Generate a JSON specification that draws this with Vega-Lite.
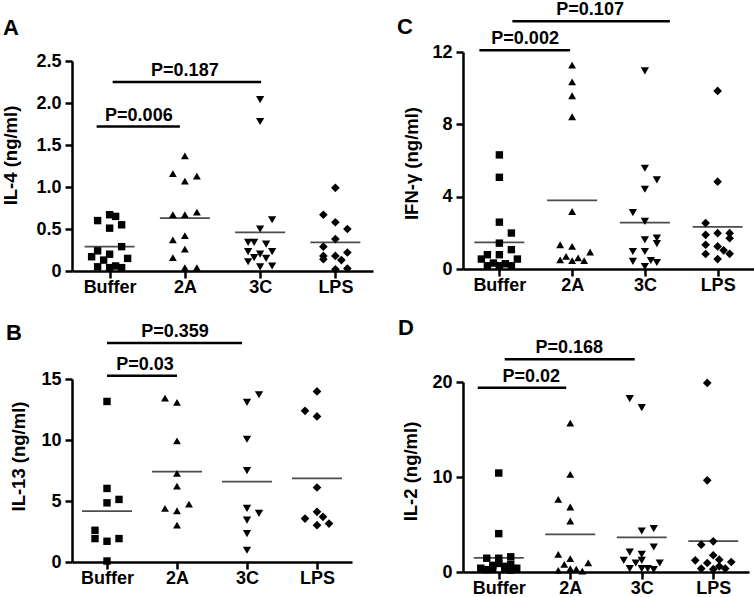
{
  "$schema": "https://vega.github.io/schema/vega-lite/v6.json",
  "background": "white",
  "padding": {"left": 1, "top": 1, "right": 0, "bottom": 0},
  "datasets": {
    "pts": [
      {"panel":"A","group":"Buffer","slot":0,"value":0.67},{"panel":"A","group":"Buffer","slot":1,"value":0.65},{"panel":"A","group":"Buffer","slot":-2,"value":0.60},{"panel":"A","group":"Buffer","slot":2,"value":0.55},{"panel":"A","group":"Buffer","slot":0,"value":0.51},{"panel":"A","group":"Buffer","slot":2,"value":0.29},{"panel":"A","group":"Buffer","slot":-2,"value":0.24},{"panel":"A","group":"Buffer","slot":0,"value":0.20},{"panel":"A","group":"Buffer","slot":-3,"value":0.17},{"panel":"A","group":"Buffer","slot":3,"value":0.15},{"panel":"A","group":"Buffer","slot":-1,"value":0.13},{"panel":"A","group":"Buffer","slot":-2,"value":0.05},{"panel":"A","group":"Buffer","slot":0,"value":0.04},{"panel":"A","group":"Buffer","slot":1,"value":0.06},{"panel":"A","group":"Buffer","slot":2,"value":0.04},
      {"panel":"A","group":"2A","slot":0,"value":1.37},{"panel":"A","group":"2A","slot":-2,"value":1.16},{"panel":"A","group":"2A","slot":0,"value":1.07},{"panel":"A","group":"2A","slot":2,"value":1.13},{"panel":"A","group":"2A","slot":-2,"value":0.67},{"panel":"A","group":"2A","slot":0,"value":0.67},{"panel":"A","group":"2A","slot":2,"value":0.70},{"panel":"A","group":"2A","slot":-2,"value":0.37},{"panel":"A","group":"2A","slot":0,"value":0.42},{"panel":"A","group":"2A","slot":0,"value":0.26},{"panel":"A","group":"2A","slot":-2,"value":0.16},{"panel":"A","group":"2A","slot":0,"value":0.04},{"panel":"A","group":"2A","slot":2,"value":0.04},
      {"panel":"A","group":"3C","slot":0,"value":2.04},{"panel":"A","group":"3C","slot":0,"value":1.78},{"panel":"A","group":"3C","slot":2,"value":0.61},{"panel":"A","group":"3C","slot":0,"value":0.50},{"panel":"A","group":"3C","slot":-2,"value":0.34},{"panel":"A","group":"3C","slot":-1,"value":0.34},{"panel":"A","group":"3C","slot":1,"value":0.32},{"panel":"A","group":"3C","slot":-2,"value":0.23},{"panel":"A","group":"3C","slot":0,"value":0.20},{"panel":"A","group":"3C","slot":2,"value":0.23},{"panel":"A","group":"3C","slot":-1,"value":0.16},{"panel":"A","group":"3C","slot":1,"value":0.15},{"panel":"A","group":"3C","slot":-2,"value":0.11},{"panel":"A","group":"3C","slot":0,"value":0.05},{"panel":"A","group":"3C","slot":2,"value":0.06},
      {"panel":"A","group":"LPS","slot":0,"value":0.99},{"panel":"A","group":"LPS","slot":-2,"value":0.67},{"panel":"A","group":"LPS","slot":0,"value":0.58},{"panel":"A","group":"LPS","slot":2,"value":0.50},{"panel":"A","group":"LPS","slot":0,"value":0.38},{"panel":"A","group":"LPS","slot":-2,"value":0.29},{"panel":"A","group":"LPS","slot":2,"value":0.22},{"panel":"A","group":"LPS","slot":-2,"value":0.18},{"panel":"A","group":"LPS","slot":-2,"value":0.14},{"panel":"A","group":"LPS","slot":0,"value":0.18},{"panel":"A","group":"LPS","slot":1,"value":0.13},{"panel":"A","group":"LPS","slot":0,"value":0.02},{"panel":"A","group":"LPS","slot":2,"value":0.03},

      {"panel":"B","group":"Buffer","slot":0,"value":13.16},{"panel":"B","group":"Buffer","slot":0,"value":6.03},{"panel":"B","group":"Buffer","slot":0,"value":4.85},{"panel":"B","group":"Buffer","slot":2,"value":5.13},{"panel":"B","group":"Buffer","slot":-2,"value":2.60},{"panel":"B","group":"Buffer","slot":-2,"value":1.92},{"panel":"B","group":"Buffer","slot":0,"value":1.70},{"panel":"B","group":"Buffer","slot":2,"value":1.92},{"panel":"B","group":"Buffer","slot":0,"value":0.08},
      {"panel":"B","group":"2A","slot":-2,"value":13.44},{"panel":"B","group":"2A","slot":0,"value":13.08},{"panel":"B","group":"2A","slot":0,"value":9.93},{"panel":"B","group":"2A","slot":0,"value":7.27},{"panel":"B","group":"2A","slot":0,"value":6.22},{"panel":"B","group":"2A","slot":-2,"value":4.39},{"panel":"B","group":"2A","slot":0,"value":4.20},{"panel":"B","group":"2A","slot":2,"value":4.74},{"panel":"B","group":"2A","slot":0,"value":3.02},
      {"panel":"B","group":"3C","slot":0,"value":13.08},{"panel":"B","group":"3C","slot":2,"value":13.71},{"panel":"B","group":"3C","slot":0,"value":10.06},{"panel":"B","group":"3C","slot":0,"value":7.49},{"panel":"B","group":"3C","slot":0,"value":4.39},{"panel":"B","group":"3C","slot":2,"value":3.98},{"panel":"B","group":"3C","slot":0,"value":3.43},{"panel":"B","group":"3C","slot":0,"value":2.33},{"panel":"B","group":"3C","slot":0,"value":0.96},
      {"panel":"B","group":"LPS","slot":0,"value":13.98},{"panel":"B","group":"LPS","slot":-2,"value":12.39},{"panel":"B","group":"LPS","slot":0,"value":11.93},{"panel":"B","group":"LPS","slot":0,"value":6.11},{"panel":"B","group":"LPS","slot":0,"value":4.11},{"panel":"B","group":"LPS","slot":-2,"value":3.56},{"panel":"B","group":"LPS","slot":1,"value":3.70},{"panel":"B","group":"LPS","slot":0,"value":3.02},{"panel":"B","group":"LPS","slot":2,"value":3.15},

      {"panel":"C","group":"Buffer","slot":0,"value":6.31},{"panel":"C","group":"Buffer","slot":0,"value":5.07},{"panel":"C","group":"Buffer","slot":0,"value":2.59},{"panel":"C","group":"Buffer","slot":2,"value":1.99},{"panel":"C","group":"Buffer","slot":0,"value":1.43},{"panel":"C","group":"Buffer","slot":2,"value":1.07},{"panel":"C","group":"Buffer","slot":-2,"value":0.79},{"panel":"C","group":"Buffer","slot":0,"value":0.79},{"panel":"C","group":"Buffer","slot":-3,"value":0.55},{"panel":"C","group":"Buffer","slot":3,"value":0.55},{"panel":"C","group":"Buffer","slot":-1,"value":0.33},{"panel":"C","group":"Buffer","slot":1,"value":0.29},{"panel":"C","group":"Buffer","slot":-2,"value":0.18},{"panel":"C","group":"Buffer","slot":0,"value":0.18},{"panel":"C","group":"Buffer","slot":2,"value":0.18},
      {"panel":"C","group":"2A","slot":0,"value":11.27},{"panel":"C","group":"2A","slot":0,"value":10.35},{"panel":"C","group":"2A","slot":0,"value":9.58},{"panel":"C","group":"2A","slot":0,"value":8.42},{"panel":"C","group":"2A","slot":0,"value":3.18},{"panel":"C","group":"2A","slot":-2,"value":1.34},{"panel":"C","group":"2A","slot":0,"value":1.25},{"panel":"C","group":"2A","slot":3,"value":0.94},{"panel":"C","group":"2A","slot":-1,"value":0.70},{"panel":"C","group":"2A","slot":-2,"value":0.51},{"panel":"C","group":"2A","slot":0,"value":0.46},{"panel":"C","group":"2A","slot":1,"value":0.61},{"panel":"C","group":"2A","slot":2,"value":0.46},
      {"panel":"C","group":"3C","slot":0,"value":10.96},{"panel":"C","group":"3C","slot":0,"value":5.57},{"panel":"C","group":"3C","slot":2,"value":4.93},{"panel":"C","group":"3C","slot":0,"value":4.41},{"panel":"C","group":"3C","slot":-2,"value":3.12},{"panel":"C","group":"3C","slot":0,"value":2.63},{"panel":"C","group":"3C","slot":0,"value":1.62},{"panel":"C","group":"3C","slot":2,"value":1.71},{"panel":"C","group":"3C","slot":2,"value":1.40},{"panel":"C","group":"3C","slot":-2,"value":0.97},{"panel":"C","group":"3C","slot":0,"value":0.97},{"panel":"C","group":"3C","slot":-2,"value":0.42},{"panel":"C","group":"3C","slot":1,"value":0.47},{"panel":"C","group":"3C","slot":2,"value":0.36},{"panel":"C","group":"3C","slot":0,"value":0.14},
      {"panel":"C","group":"LPS","slot":0,"value":9.85},{"panel":"C","group":"LPS","slot":0,"value":4.83},{"panel":"C","group":"LPS","slot":-2,"value":2.54},{"panel":"C","group":"LPS","slot":-2,"value":1.89},{"panel":"C","group":"LPS","slot":0,"value":1.98},{"panel":"C","group":"LPS","slot":2,"value":1.98},{"panel":"C","group":"LPS","slot":2,"value":1.70},{"panel":"C","group":"LPS","slot":-2,"value":1.34},{"panel":"C","group":"LPS","slot":0,"value":1.25},{"panel":"C","group":"LPS","slot":1,"value":1.03},{"panel":"C","group":"LPS","slot":2,"value":0.84},{"panel":"C","group":"LPS","slot":-2,"value":0.83},{"panel":"C","group":"LPS","slot":0,"value":0.55},

      {"panel":"D","group":"Buffer","slot":0,"value":10.42},{"panel":"D","group":"Buffer","slot":0,"value":4.04},{"panel":"D","group":"Buffer","slot":-2,"value":1.45},{"panel":"D","group":"Buffer","slot":0,"value":1.45},{"panel":"D","group":"Buffer","slot":2,"value":1.6},{"panel":"D","group":"Buffer","slot":0,"value":0.9},{"panel":"D","group":"Buffer","slot":2,"value":0.8},{"panel":"D","group":"Buffer","slot":-1,"value":0.7},{"panel":"D","group":"Buffer","slot":1,"value":0.6},{"panel":"D","group":"Buffer","slot":-3,"value":0.4},{"panel":"D","group":"Buffer","slot":3,"value":0.4},{"panel":"D","group":"Buffer","slot":-1,"value":0.3},{"panel":"D","group":"Buffer","slot":1,"value":0.3},{"panel":"D","group":"Buffer","slot":-2,"value":0.25},{"panel":"D","group":"Buffer","slot":2,"value":0.2},
      {"panel":"D","group":"2A","slot":0,"value":15.68},{"panel":"D","group":"2A","slot":0,"value":10.28},{"panel":"D","group":"2A","slot":-2,"value":7.65},{"panel":"D","group":"2A","slot":0,"value":6.84},{"panel":"D","group":"2A","slot":0,"value":5.37},{"panel":"D","group":"2A","slot":-2,"value":1.86},{"panel":"D","group":"2A","slot":0,"value":1.40},{"panel":"D","group":"2A","slot":-1,"value":0.81},{"panel":"D","group":"2A","slot":3,"value":0.95},{"panel":"D","group":"2A","slot":-2,"value":0.18},{"panel":"D","group":"2A","slot":0,"value":0.35},{"panel":"D","group":"2A","slot":1,"value":0.30},{"panel":"D","group":"2A","slot":2,"value":0.10},
      {"panel":"D","group":"3C","slot":-2,"value":18.25},{"panel":"D","group":"3C","slot":0,"value":17.3},{"panel":"D","group":"3C","slot":0,"value":4.32},{"panel":"D","group":"3C","slot":2,"value":4.57},{"panel":"D","group":"3C","slot":2,"value":2.63},{"panel":"D","group":"3C","slot":-2,"value":2.1},{"panel":"D","group":"3C","slot":0,"value":1.86},{"panel":"D","group":"3C","slot":-3,"value":1.23},{"panel":"D","group":"3C","slot":0,"value":1.23},{"panel":"D","group":"3C","slot":-1,"value":0.95},{"panel":"D","group":"3C","slot":3,"value":0.95},{"panel":"D","group":"3C","slot":-2,"value":0.36},{"panel":"D","group":"3C","slot":0,"value":0.36},{"panel":"D","group":"3C","slot":1,"value":0.36},{"panel":"D","group":"3C","slot":2,"value":0.25},
      {"panel":"D","group":"LPS","slot":-1,"value":19.9},{"panel":"D","group":"LPS","slot":-1,"value":9.65},{"panel":"D","group":"LPS","slot":0,"value":3.23},{"panel":"D","group":"LPS","slot":-2,"value":2.88},{"panel":"D","group":"LPS","slot":0,"value":1.76},{"panel":"D","group":"LPS","slot":-3,"value":1.23},{"panel":"D","group":"LPS","slot":-1,"value":0.95},{"panel":"D","group":"LPS","slot":1,"value":1.3},{"panel":"D","group":"LPS","slot":3,"value":1.05},{"panel":"D","group":"LPS","slot":1,"value":0.6},{"panel":"D","group":"LPS","slot":-2,"value":0.36},{"panel":"D","group":"LPS","slot":2,"value":0.36},{"panel":"D","group":"LPS","slot":0,"value":0.3}
    ],
    "means": [
      {"panel":"A","group":"Buffer","mean":0.29},{"panel":"A","group":"2A","mean":0.63},{"panel":"A","group":"3C","mean":0.46},{"panel":"A","group":"LPS","mean":0.34},
      {"panel":"B","group":"Buffer","mean":4.17},{"panel":"B","group":"2A","mean":7.40},{"panel":"B","group":"3C","mean":6.58},{"panel":"B","group":"LPS","mean":6.86},
      {"panel":"C","group":"Buffer","mean":1.47},{"panel":"C","group":"2A","mean":3.79},{"panel":"C","group":"3C","mean":2.57},{"panel":"C","group":"LPS","mean":2.33},
      {"panel":"D","group":"Buffer","mean":1.49},{"panel":"D","group":"2A","mean":3.96},{"panel":"D","group":"3C","mean":3.65},{"panel":"D","group":"LPS","mean":3.26}
    ],
    "sig": [
      {"panel":"A","pair":"short","from":"Buffer","to":"2A","y":1.72,"label":"P=0.006"},
      {"panel":"A","pair":"long","from":"Buffer","to":"3C","y":2.25,"label":"P=0.187"},
      {"panel":"B","pair":"short","from":"Buffer","to":"2A","y":15.27,"label":"P=0.03"},
      {"panel":"B","pair":"long","from":"Buffer","to":"3C","y":17.96,"label":"P=0.359"},
      {"panel":"C","pair":"short","from":"Buffer","to":"2A","y":12.1,"label":"P=0.002"},
      {"panel":"C","pair":"long","from":"Buffer","to":"3C","y":13.7,"label":"P=0.107"},
      {"panel":"D","pair":"short","from":"Buffer","to":"2A","y":19.4,"label":"P=0.02"},
      {"panel":"D","pair":"long","from":"Buffer","to":"3C","y":22.4,"label":"P=0.168"}
    ]
  },
  "columns": 2,
  "bounds": "flush",
  "spacing": {"row": 108, "column": 90},
  "concat": [
    {
      "width": 301, "height": 219,
      "title": {"text": "A", "offset": 12, "dx": 1},
      "layer": [
        {"data": {"name": "pts"}, "transform": [{"filter": "datum.panel === 'A'"}],
         "mark": {"type": "point", "filled": true, "opacity": 1, "color": "black", "strokeWidth": 0},
         "encoding": {
           "x": {"field": "group", "type": "nominal", "scale": {"type": "point", "padding": 0.5, "domain": ["Buffer","2A","3C","LPS"]}, "axis": {"title": null}},
           "xOffset": {"field": "slot", "type": "quantitative", "scale": {"domain": [-3, 3], "range": [-18, 18]}},
           "y": {"field": "value", "type": "quantitative", "scale": {"domain": [0, 2.5], "range": [219, 9], "nice": false}, "axis": {"title": "IL-4 (ng/ml)", "values": [0, 0.5, 1, 1.5, 2, 2.5], "labelExpr": "datum.value === 0 ? '0' : format(datum.value, '.1f')", "titlePadding": 15, "titleY": 103}},
           "shape": {"field": "group", "type": "nominal", "scale": {"domain": ["Buffer","2A","3C","LPS"], "range": ["square","triangle-up","triangle-down","diamond"]}, "legend": null},
           "size": {"field": "group", "type": "nominal", "scale": {"domain": ["Buffer","2A","3C","LPS"], "range": [55, 75, 75, 60]}, "legend": null}
         }},
        {"data": {"name": "means"}, "transform": [{"filter": "datum.panel === 'A'"}],
         "mark": {"type": "tick", "color": "black", "size": 50, "thickness": 1.8},
         "encoding": {"x": {"field": "group", "type": "nominal"}, "y": {"field": "mean", "type": "quantitative"}}},
        {"data": {"name": "sig"}, "transform": [{"filter": "datum.panel === 'A' && datum.pair === 'short'"}],
         "mark": {"type": "rule", "color": "black", "strokeWidth": 2.5, "xOffset": -13, "x2Offset": -5},
         "encoding": {"x": {"field": "from", "type": "nominal"}, "x2": {"field": "to"}, "y": {"field": "y", "type": "quantitative"}}},
        {"data": {"name": "sig"}, "transform": [{"filter": "datum.panel === 'A' && datum.pair === 'long'"}],
         "mark": {"type": "rule", "color": "black", "strokeWidth": 2.5, "xOffset": 3, "x2Offset": 1},
         "encoding": {"x": {"field": "from", "type": "nominal"}, "x2": {"field": "to"}, "y": {"field": "y", "type": "quantitative"}}},
        {"data": {"name": "sig"}, "transform": [{"filter": "datum.panel === 'A' && datum.pair === 'short'"}],
         "mark": {"type": "text", "dx": -46, "dy": -6, "baseline": "alphabetic", "align": "center", "fontSize": 18, "fontWeight": "bold", "font": "Liberation Sans", "color": "black"},
         "encoding": {"x": {"datum": "2A", "type": "nominal"}, "y": {"field": "y", "type": "quantitative"}, "text": {"field": "label"}}},
        {"data": {"name": "sig"}, "transform": [{"filter": "datum.panel === 'A' && datum.pair === 'long'"}],
         "mark": {"type": "text", "dx": 0, "dy": -6, "baseline": "alphabetic", "align": "center", "fontSize": 18, "fontWeight": "bold", "font": "Liberation Sans", "color": "black"},
         "encoding": {"x": {"datum": "2A", "type": "nominal"}, "y": {"field": "y", "type": "quantitative"}, "text": {"field": "label"}}}
      ]
    },
    {
      "width": 291, "height": 217,
      "title": {"text": "C", "offset": -38, "dx": -6},
      "layer": [
        {"data": {"name": "pts"}, "transform": [{"filter": "datum.panel === 'C'"}],
         "mark": {"type": "point", "filled": true, "opacity": 1, "color": "black", "strokeWidth": 0},
         "encoding": {
           "x": {"field": "group", "type": "nominal", "scale": {"type": "point", "padding": 0.5, "domain": ["Buffer","2A","3C","LPS"]}, "axis": {"title": null}},
           "xOffset": {"field": "slot", "type": "quantitative", "scale": {"domain": [-3, 3], "range": [-18, 18]}},
           "y": {"field": "value", "type": "quantitative", "scale": {"domain": [0, 12], "nice": false}, "axis": {"title": "IFN-γ (ng/ml)", "values": [0, 4, 8, 12], "titlePadding": 10, "titleY": 111}},
           "shape": {"field": "group", "type": "nominal", "scale": {"domain": ["Buffer","2A","3C","LPS"], "range": ["square","triangle-up","triangle-down","diamond"]}, "legend": null},
           "size": {"field": "group", "type": "nominal", "scale": {"domain": ["Buffer","2A","3C","LPS"], "range": [55, 75, 75, 60]}, "legend": null}
         }},
        {"data": {"name": "means"}, "transform": [{"filter": "datum.panel === 'C'"}],
         "mark": {"type": "tick", "color": "black", "size": 50, "thickness": 1.8},
         "encoding": {"x": {"field": "group", "type": "nominal"}, "y": {"field": "mean", "type": "quantitative"}}},
        {"data": {"name": "sig"}, "transform": [{"filter": "datum.panel === 'C' && datum.pair === 'short'"}],
         "mark": {"type": "rule", "color": "black", "strokeWidth": 2.5, "xOffset": -20, "x2Offset": -2},
         "encoding": {"x": {"field": "from", "type": "nominal"}, "x2": {"field": "to"}, "y": {"field": "y", "type": "quantitative"}}},
        {"data": {"name": "sig"}, "transform": [{"filter": "datum.panel === 'C' && datum.pair === 'long'"}],
         "mark": {"type": "rule", "color": "black", "strokeWidth": 2.5, "xOffset": 13, "x2Offset": 25},
         "encoding": {"x": {"field": "from", "type": "nominal"}, "x2": {"field": "to"}, "y": {"field": "y", "type": "quantitative"}}},
        {"data": {"name": "sig"}, "transform": [{"filter": "datum.panel === 'C' && datum.pair === 'short'"}],
         "mark": {"type": "text", "dx": -47, "dy": -6, "baseline": "alphabetic", "align": "center", "fontSize": 18, "fontWeight": "bold", "font": "Liberation Sans", "color": "black"},
         "encoding": {"x": {"datum": "2A", "type": "nominal"}, "y": {"field": "y", "type": "quantitative"}, "text": {"field": "label"}}},
        {"data": {"name": "sig"}, "transform": [{"filter": "datum.panel === 'C' && datum.pair === 'long'"}],
         "mark": {"type": "text", "dx": 18, "dy": -6, "baseline": "alphabetic", "align": "center", "fontSize": 18, "fontWeight": "bold", "font": "Liberation Sans", "color": "black"},
         "encoding": {"x": {"datum": "2A", "type": "nominal"}, "y": {"field": "y", "type": "quantitative"}, "text": {"field": "label"}}}
      ]
    },
    {
      "width": 280, "height": 183,
      "title": {"text": "B", "offset": -22, "dx": -4},
      "layer": [
        {"data": {"name": "pts"}, "transform": [{"filter": "datum.panel === 'B'"}],
         "mark": {"type": "point", "filled": true, "opacity": 1, "color": "black", "strokeWidth": 0},
         "encoding": {
           "x": {"field": "group", "type": "nominal", "scale": {"type": "point", "padding": 0.5, "domain": ["Buffer","2A","3C","LPS"]}, "axis": {"title": null}},
           "xOffset": {"field": "slot", "type": "quantitative", "scale": {"domain": [-3, 3], "range": [-18, 18]}},
           "y": {"field": "value", "type": "quantitative", "scale": {"domain": [0, 15], "nice": false}, "axis": {"title": "IL-13 (ng/ml)", "values": [0, 5, 10, 15], "titlePadding": 12, "titleY": 77}},
           "shape": {"field": "group", "type": "nominal", "scale": {"domain": ["Buffer","2A","3C","LPS"], "range": ["square","triangle-up","triangle-down","diamond"]}, "legend": null},
           "size": {"field": "group", "type": "nominal", "scale": {"domain": ["Buffer","2A","3C","LPS"], "range": [55, 75, 75, 60]}, "legend": null}
         }},
        {"data": {"name": "means"}, "transform": [{"filter": "datum.panel === 'B'"}],
         "mark": {"type": "tick", "color": "black", "size": 50, "thickness": 1.8},
         "encoding": {"x": {"field": "group", "type": "nominal"}, "y": {"field": "mean", "type": "quantitative"}}},
        {"data": {"name": "sig"}, "transform": [{"filter": "datum.panel === 'B' && datum.pair === 'short'"}],
         "mark": {"type": "rule", "color": "black", "strokeWidth": 2.5, "xOffset": 0, "x2Offset": 0},
         "encoding": {"x": {"field": "from", "type": "nominal"}, "x2": {"field": "to"}, "y": {"field": "y", "type": "quantitative"}}},
        {"data": {"name": "sig"}, "transform": [{"filter": "datum.panel === 'B' && datum.pair === 'long'"}],
         "mark": {"type": "rule", "color": "black", "strokeWidth": 2.5, "xOffset": 0, "x2Offset": -5},
         "encoding": {"x": {"field": "from", "type": "nominal"}, "x2": {"field": "to"}, "y": {"field": "y", "type": "quantitative"}}},
        {"data": {"name": "sig"}, "transform": [{"filter": "datum.panel === 'B' && datum.pair === 'short'"}],
         "mark": {"type": "text", "dx": -32, "dy": -6, "baseline": "alphabetic", "align": "center", "fontSize": 18, "fontWeight": "bold", "font": "Liberation Sans", "color": "black"},
         "encoding": {"x": {"datum": "2A", "type": "nominal"}, "y": {"field": "y", "type": "quantitative"}, "text": {"field": "label"}}},
        {"data": {"name": "sig"}, "transform": [{"filter": "datum.panel === 'B' && datum.pair === 'long'"}],
         "mark": {"type": "text", "dx": -2, "dy": -6, "baseline": "alphabetic", "align": "center", "fontSize": 18, "fontWeight": "bold", "font": "Liberation Sans", "color": "black"},
         "encoding": {"x": {"datum": "2A", "type": "nominal"}, "y": {"field": "y", "type": "quantitative"}, "text": {"field": "label"}}}
      ]
    },
    {
      "width": 286, "height": 193,
      "title": {"text": "D", "offset": -1, "dx": -4},
      "layer": [
        {"data": {"name": "pts"}, "transform": [{"filter": "datum.panel === 'D'"}],
         "mark": {"type": "point", "filled": true, "opacity": 1, "color": "black", "strokeWidth": 0},
         "encoding": {
           "x": {"field": "group", "type": "nominal", "scale": {"type": "point", "padding": 0.5, "domain": ["Buffer","2A","3C","LPS"]}, "axis": {"title": null}},
           "xOffset": {"field": "slot", "type": "quantitative", "scale": {"domain": [-3, 3], "range": [-18, 18]}},
           "y": {"field": "value", "type": "quantitative", "scale": {"domain": [0, 20], "range": [193, 3], "nice": false}, "axis": {"title": "IL-2 (ng/ml)", "values": [0, 10, 20], "titlePadding": 11, "titleY": 92}},
           "shape": {"field": "group", "type": "nominal", "scale": {"domain": ["Buffer","2A","3C","LPS"], "range": ["square","triangle-up","triangle-down","diamond"]}, "legend": null},
           "size": {"field": "group", "type": "nominal", "scale": {"domain": ["Buffer","2A","3C","LPS"], "range": [55, 75, 75, 60]}, "legend": null}
         }},
        {"data": {"name": "means"}, "transform": [{"filter": "datum.panel === 'D'"}],
         "mark": {"type": "tick", "color": "black", "size": 50, "thickness": 1.8},
         "encoding": {"x": {"field": "group", "type": "nominal"}, "y": {"field": "mean", "type": "quantitative"}}},
        {"data": {"name": "sig"}, "transform": [{"filter": "datum.panel === 'D' && datum.pair === 'short'"}],
         "mark": {"type": "rule", "color": "black", "strokeWidth": 2.5, "xOffset": -21, "x2Offset": -4},
         "encoding": {"x": {"field": "from", "type": "nominal"}, "x2": {"field": "to"}, "y": {"field": "y", "type": "quantitative"}}},
        {"data": {"name": "sig"}, "transform": [{"filter": "datum.panel === 'D' && datum.pair === 'long'"}],
         "mark": {"type": "rule", "color": "black", "strokeWidth": 2.5, "xOffset": 6, "x2Offset": -7},
         "encoding": {"x": {"field": "from", "type": "nominal"}, "x2": {"field": "to"}, "y": {"field": "y", "type": "quantitative"}}},
        {"data": {"name": "sig"}, "transform": [{"filter": "datum.panel === 'D' && datum.pair === 'short'"}],
         "mark": {"type": "text", "dx": -39, "dy": -6, "baseline": "alphabetic", "align": "center", "fontSize": 18, "fontWeight": "bold", "font": "Liberation Sans", "color": "black"},
         "encoding": {"x": {"datum": "2A", "type": "nominal"}, "y": {"field": "y", "type": "quantitative"}, "text": {"field": "label"}}},
        {"data": {"name": "sig"}, "transform": [{"filter": "datum.panel === 'D' && datum.pair === 'long'"}],
         "mark": {"type": "text", "dx": -1, "dy": -6, "baseline": "alphabetic", "align": "center", "fontSize": 18, "fontWeight": "bold", "font": "Liberation Sans", "color": "black"},
         "encoding": {"x": {"datum": "2A", "type": "nominal"}, "y": {"field": "y", "type": "quantitative"}, "text": {"field": "label"}}}
      ]
    }
  ],
  "config": {
    "view": {"stroke": null},
    "axis": {"domainColor": "black", "domainWidth": 2.5, "tickColor": "black", "tickWidth": 2.5, "tickSize": 7, "labelFont": "Liberation Sans", "labelFontSize": 18, "labelFontWeight": "bold", "labelColor": "black", "titleFont": "Liberation Sans", "titleFontSize": 18.5, "titleFontWeight": "bold", "titleColor": "black", "grid": false},
    "axisX": {"labelAngle": 0, "labelPadding": 0},
    "axisY": {"labelPadding": 4},
    "title": {"font": "Liberation Sans", "fontSize": 22, "fontWeight": "bold", "color": "black", "anchor": "start", "frame": "bounds"}
  }
}
